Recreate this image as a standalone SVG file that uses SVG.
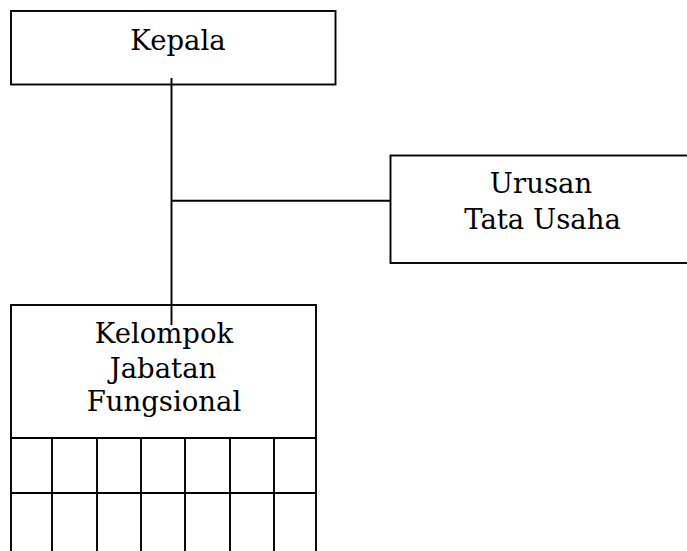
<svg xmlns="http://www.w3.org/2000/svg" width="687" height="551" viewBox="0 0 687 551">
<style>
.box{fill:#fff;stroke:#000;stroke-width:1.9}
.ln{stroke:#000;stroke-width:1.9;fill:none}
.t{font-family:"DejaVu Serif","Liberation Serif",serif;font-size:27.5px;fill:#000;text-anchor:middle}
</style>
<rect width="687" height="551" fill="#fff"/>
<g id="kepala">
<rect class="box" x="11" y="11" width="324.5" height="73.5"/>
<text class="t" x="178" y="50">Kepala</text>
</g>
<g id="urusan">
<rect class="box" x="390.5" y="155.5" width="310" height="107.5"/>
<text class="t" x="541" y="193">Urusan</text>
<text class="t" x="542.5" y="229">Tata Usaha</text>
</g>
<g id="kelompok">
<rect class="box" x="11" y="305" width="305" height="260"/>
<text class="t" x="164" y="343">Kelompok</text>
<text class="t" x="163" y="378">Jabatan</text>
<text class="t" x="164" y="410.5">Fungsional</text>
<path class="ln" d="M11 438H316M11 493H316M52 438V560M97 438V560M141 438V560M185 438V560M230 438V560M274 438V560"/>
</g>
<g id="connectors">
<path class="ln" d="M171.5 78V325M171.5 200.7H390.5"/>
</g>
</svg>
